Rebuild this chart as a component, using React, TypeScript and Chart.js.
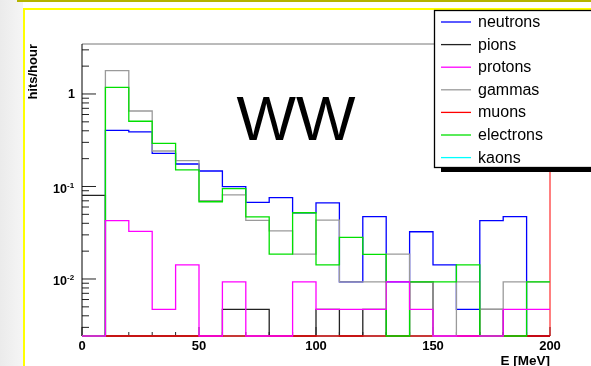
import React, { useEffect, useRef } from 'react';
import { Chart, registerables } from 'chart.js';

Chart.register(...registerables);

// ---- data (hits/hour per 10 MeV bin, 0..200 MeV) ----
const BIN_EDGES = [0, 10, 20, 30, 40, 50, 60, 70, 80, 90, 100, 110, 120, 130, 140, 150, 160, 170, 180, 190, 200];

const NEUTRONS = [0, 0.405, 0.39, 0.228, 0.175, 0.147, 0.0995, 0.0675, 0.0757, 0.052, 0.0665, 0.0093, 0.0472, 0.0093, 0.0324, 0.0142, 0.0047, 0.0428, 0.0472, 0];
const PIONS = [0.08, 0, 0, 0, 0, 0, 0.0047, 0.0047, 0, 0, 0.0047, 0, 0.0047, 0, 0.0093, 0, 0, 0.0047, 0, 0];
const PROTONS = [0, 0.0428, 0.0328, 0.0047, 0.0142, 0, 0.0093, 0, 0, 0.0093, 0.0047, 0.0047, 0.0047, 0.0093, 0.0047, 0, 0, 0, 0.0047, 0.0047];
const GAMMAS = [0, 1.79, 0.655, 0.242, 0.19, 0.0701, 0.081, 0.043, 0.0331, 0.0186, 0.0432, 0.0093, 0.0093, 0.0186, 0.0093, 0, 0.0093, 0.0047, 0.0093, 0.0093];
const MUONS = [0, 0, 0, 0, 0, 0, 0, 0, 0, 0, 0, 0, 0, 0, 0, 0, 0, 0, 0, 0];
const ELECTRONS = [0, 1.18, 0.507, 0.293, 0.151, 0.0684, 0.095, 0.047, 0.0186, 0.052, 0.0142, 0.0282, 0.0185, 0, 0.0093, 0.0093, 0.0142, 0, 0, 0.0093];
const KAONS = [0, 0, 0, 0, 0, 0, 0, 0, 0, 0, 0, 0, 0, 0, 0, 0, 0, 0, 0, 0];

const SERIES_NAMES = ['neutrons', 'pions', 'protons', 'gammas', 'muons', 'electrons', 'kaons'];
const SERIES_VALUES = [NEUTRONS, PIONS, PROTONS, GAMMAS, MUONS, ELECTRONS, KAONS];
const SERIES_COLORS = ['#0000ff', '#222222', '#ff00ff', '#9a9a9a', '#ff0000', '#00e000', '#00ffff'];
const SERIES_ORDER = [6, 5, 1, 3, 4, 2, 7]; // lower = drawn on top

const X_TICK_LABELS = [0, 50, 100, 150, 200];
const Y_TICK_VALUES = [1, 0.1, 0.01];
const Y_TICK_BASES = ['1', '10', '10'];
const Y_TICK_EXPONENTS = ['', '-1', '-2'];

const X_MIN = 0;
const X_MAX = 200;
const Y_MIN = 0.00242;
const Y_MAX = 3.47;

const X_TITLE = 'E [MeV]';
const Y_TITLE = 'hits/hour';
const PLOT_TITLE = 'WW';

const FONT = '"Liberation Sans", Arial, Helvetica, sans-serif';

function toPoints(vals: number[]) {
  const pts = vals.map((v, i) => ({ x: BIN_EDGES[i], y: v > 0 ? v : Y_MIN }));
  const last = vals[vals.length - 1];
  pts.push({ x: BIN_EDGES[vals.length], y: last > 0 ? last : Y_MIN });
  return pts;
}

const backgroundPlugin = {
  id: 'slideBackground',
  beforeDraw(chart: any) {
    const ctx = chart.ctx;
    const W = chart.width;
    const H = chart.height;
    ctx.save();
    ctx.fillStyle = '#ffffff';
    ctx.fillRect(0, 0, W, H);
    const g = ctx.createLinearGradient(0, 0, 23, 0);
    g.addColorStop(0, '#ebebeb');
    g.addColorStop(1, '#f5f5f5');
    ctx.fillStyle = g;
    ctx.fillRect(0, 0, 23, H);
    ctx.fillStyle = '#b4b400';
    ctx.fillRect(17, 0, W - 17, 2);
    ctx.fillStyle = '#ffff00';
    ctx.fillRect(23, 8, W - 23, 2);
    ctx.fillRect(23, 8, 2, H - 8);
    ctx.restore();
  },
};

const framePlugin = {
  id: 'rootFrame',
  beforeDatasetsDraw(chart: any) {
    const ctx = chart.ctx;
    const { left, right, top, bottom } = chart.chartArea;
    const xs = chart.scales.x;
    const ys = chart.scales.y;
    ctx.save();
    ctx.lineWidth = 1;
    ctx.strokeStyle = '#222';
    // y ticks (inward)
    for (let d = -3; d <= 0; d++) {
      for (let m = 1; m <= 9; m++) {
        const v = m * Math.pow(10, d);
        if (v < Y_MIN || v > Y_MAX) continue;
        const py = ys.getPixelForValue(v);
        const len = m === 1 ? 14 : 7;
        ctx.beginPath();
        ctx.moveTo(left, py);
        ctx.lineTo(left + len, py);
        ctx.stroke();
      }
    }
    // x ticks (inward)
    for (let v = X_MIN; v <= X_MAX; v += 10) {
      const px = xs.getPixelForValue(v);
      const len = v % 50 === 0 ? 9 : 4;
      ctx.beginPath();
      ctx.moveTo(px, bottom);
      ctx.lineTo(px, bottom - len);
      ctx.stroke();
    }
    // frame
    ctx.strokeStyle = '#777';
    ctx.beginPath();
    ctx.moveTo(left, top);
    ctx.lineTo(right, top);
    ctx.stroke();
    ctx.strokeStyle = '#000';
    ctx.beginPath();
    ctx.moveTo(left, top);
    ctx.lineTo(left, bottom);
    ctx.lineTo(right, bottom);
    ctx.stroke();
    ctx.strokeStyle = '#ff0000';
    ctx.beginPath();
    ctx.moveTo(right, top);
    ctx.lineTo(right, bottom);
    ctx.stroke();
    ctx.restore();
  },
  afterDraw(chart: any) {
    const ctx = chart.ctx;
    const ys = chart.scales.y;
    ctx.save();
    // y tick labels with exponents
    ctx.fillStyle = '#000';
    ctx.textBaseline = 'middle';
    Y_TICK_VALUES.forEach((v, i) => {
      const py = ys.getPixelForValue(v);
      const base = Y_TICK_BASES[i];
      const exp = Y_TICK_EXPONENTS[i];
      if (!exp) {
        ctx.font = `bold 12.5px ${FONT}`;
        ctx.textAlign = 'right';
        ctx.fillText(base, 75, py + 0.5);
      } else {
        ctx.font = `bold 12.5px ${FONT}`;
        ctx.textAlign = 'right';
        ctx.fillText(base, 67, py + 3);
        ctx.font = `bold 8px ${FONT}`;
        ctx.textAlign = 'left';
        ctx.fillText(exp, 67, py - 1);
      }
    });

    // big title
    ctx.font = `63px ${FONT}`;
    ctx.textAlign = 'center';
    ctx.textBaseline = 'alphabetic';
    ctx.fillText(PLOT_TITLE, 296, 140);

    // legend box (ROOT TLegend style with shadow)
    const LX = 434, LY = 10, LW = 175, LH = 157;
    ctx.fillStyle = '#000';
    ctx.fillRect(LX + 7, LY + LH, LW, 5);
    ctx.fillStyle = '#fff';
    ctx.fillRect(LX, LY, LW, LH);
    ctx.strokeStyle = '#000';
    ctx.lineWidth = 1.3;
    ctx.strokeRect(LX + 0.5, LY + 0.5, LW, LH);
    chart.data.datasets.forEach((ds: any, i: number) => {
      const ry = 22 + 22.6 * i;
      ctx.strokeStyle = ds.borderColor;
      ctx.lineWidth = 1.3;
      ctx.beginPath();
      ctx.moveTo(441, ry);
      ctx.lineTo(471, ry);
      ctx.stroke();
      ctx.fillStyle = '#000';
      ctx.font = `16px ${FONT}`;
      ctx.textAlign = 'left';
      ctx.textBaseline = 'middle';
      ctx.fillText(ds.label, 478, ry + 0.5);
    });
    ctx.restore();
  },
};

export default function App() {
  const ref = useRef<HTMLCanvasElement | null>(null);

  useEffect(() => {
    document.body.style.margin = '0';
    document.documentElement.style.overflow = 'hidden';
    const canvas = ref.current;
    if (!canvas) return;

    const datasets = SERIES_NAMES.map((name, i) => ({
      label: name,
      data: toPoints(SERIES_VALUES[i]),
      borderColor: SERIES_COLORS[i],
      backgroundColor: SERIES_COLORS[i],
      borderWidth: 1.3,
      pointRadius: 0,
      fill: false,
      stepped: 'before' as const,
      tension: 0,
      clip: false as const,
      order: SERIES_ORDER[i],
    }));

    const chart = new Chart(canvas, {
      type: 'line',
      data: { datasets },
      options: {
        animation: false,
        responsive: false,
        events: [],
        layout: { padding: { left: 0, top: 44, right: 41, bottom: 0 } },
        plugins: {
          legend: { display: false },
          tooltip: { enabled: false },
          title: { display: false },
        },
        scales: {
          x: {
            type: 'linear',
            min: X_MIN,
            max: X_MAX,
            ticks: {
              stepSize: 50,
              autoSkip: false,
              maxRotation: 0,
              padding: 3,
              color: '#000',
              font: { family: FONT, size: 13, weight: 'bold' },
              callback: (v: any) => (X_TICK_LABELS.includes(Number(v)) ? String(v) : ''),
            },
            grid: { display: false, drawTicks: false, tickLength: 0 },
            border: { display: false },
            title: {
              display: true,
              text: X_TITLE,
              align: 'end',
              color: '#000',
              font: { family: FONT, size: 13.5, weight: 'bold', lineHeight: 1 },
              padding: { top: 0, bottom: -2 },
            },
            afterFit: (s: any) => {
              s.height = 30;
            },
          },
          y: {
            type: 'logarithmic',
            min: Y_MIN,
            max: Y_MAX,
            ticks: { display: false },
            grid: { display: false, drawTicks: false, tickLength: 0 },
            border: { display: false },
            title: {
              display: true,
              text: Y_TITLE,
              align: 'end',
              color: '#000',
              font: { family: FONT, size: 13, weight: 'bold', lineHeight: 1.2 },
              padding: { top: 26, bottom: 0 },
            },
            afterFit: (s: any) => {
              s.width = 82;
            },
          },
        },
      },
      plugins: [backgroundPlugin, framePlugin],
    } as any);

    return () => chart.destroy();
  }, []);

  return (
    <div style={{ width: 591, height: 366, position: 'relative', overflow: 'hidden' }}>
      <canvas ref={ref} width={591} height={366} style={{ display: 'block', width: 591, height: 366 }} />
    </div>
  );
}
